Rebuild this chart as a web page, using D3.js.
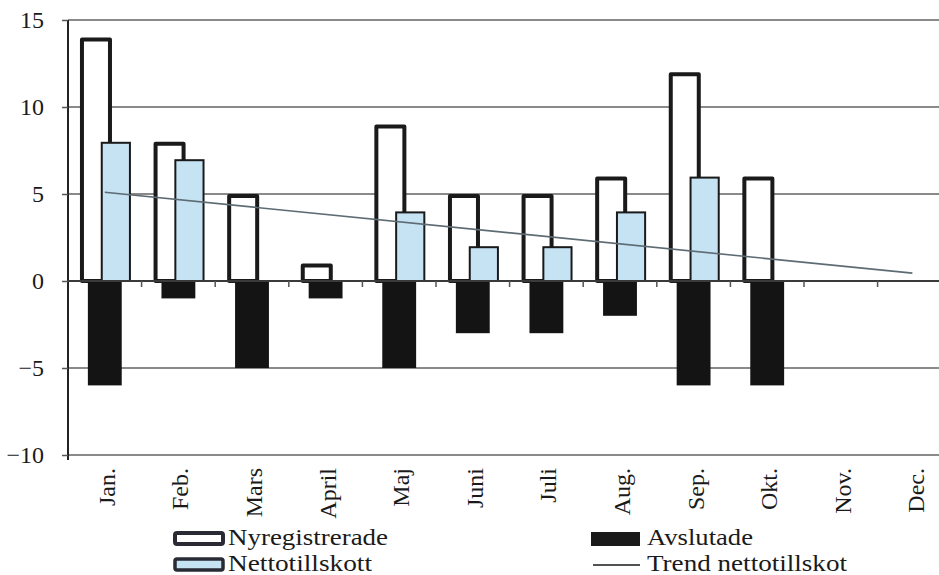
<!DOCTYPE html>
<html><head><meta charset="utf-8">
<script src="https://cdn.jsdelivr.net/npm/d3@7"></script>
<style>body{margin:0;background:#fff}svg{display:block}text{font-family:"Liberation Serif",serif;fill:#1a1a1a}</style>
</head><body>
<svg id="c" width="939" height="575" font-family="Liberation Serif"></svg>
<script>
const months = ["Jan.","Feb.","Mars","April","Maj","Juni","Juli","Aug.","Sep.","Okt.","Nov.","Dec."];
const nyregistrerade = [14,8,5,1,9,5,5,6,12,6,null,null];
const avslutade = [-6,-1,-5,-1,-5,-3,-3,-2,-6,-6,null,null];
const nettotillskott = [8,7,0,0,4,2,2,4,6,0,null,null];
const trendStart = 5.1, trendEnd = 0.45; // trend nettotillskot, Jan -> Dec
const yTicks = [-10,-5,0,5,10,15];
const legendLabels = ["Nyregistrerade","Nettotillskott","Avslutade","Trend nettotillskot"];

const FONT = "Liberation Serif";
const svg = d3.select("#c");
const x = d3.scaleBand().domain(months).range([68, 68 + 12*73.6]).padding(0);
const y = d3.scaleLinear().domain([-10,15]).range([455,20]);
const bw = x.bandwidth();
const cx = m => x(m) + bw/2;

// gridlines
svg.append("g").selectAll("line").data(yTicks.filter(t=>t!==0)).join("line")
  .attr("x1",68).attr("x2",939).attr("y1",d=>y(d)).attr("y2",d=>y(d))
  .attr("stroke","#8a8a8a").attr("stroke-width",2);

// y axis
const ya = d3.axisLeft(y).tickValues(yTicks).tickSize(6).tickPadding(18).tickFormat(d3.format("d"));
const yg = svg.append("g").attr("transform","translate(68,0)").call(ya);
yg.attr("font-family",FONT).attr("font-size",24);
yg.select(".domain").attr("stroke","#222").attr("stroke-width",2).attr("d","M0,20V460");
yg.selectAll(".tick line").attr("stroke","#555").attr("stroke-width",1.5);
yg.selectAll(".tick text").attr("font-family",FONT).attr("font-size",24).attr("fill","#1a1a1a");

// Nyregistrerade
const nyData = months.map((m,i)=>({m,v:nyregistrerade[i]})).filter(d=>d.v!=null);
svg.append("g").selectAll("rect").data(nyData).join("rect")
  .attr("x",d=>cx(d.m)-0.12*bw-0.2175*bw+2).attr("width",0.435*bw-4)
  .attr("y",d=>y(d.v)+2).attr("height",d=>y(0)-y(d.v)-2)
  .attr("fill","#fff").attr("stroke","#1a1a1a").attr("stroke-width",4).attr("stroke-linejoin","round");

// Avslutade
const avData = months.map((m,i)=>({m,v:avslutade[i]})).filter(d=>d.v!=null);
svg.append("g").selectAll("rect").data(avData).join("rect")
  .attr("x",d=>cx(d.m)-0.23*bw).attr("width",0.46*bw)
  .attr("y",y(0)).attr("height",d=>y(d.v)-y(0))
  .attr("fill","#141414");

// Nettotillskott
const neData = months.map((m,i)=>({m,v:nettotillskott[i]})).filter(d=>d.v!=null && d.v>0);
svg.append("g").selectAll("rect").data(neData).join("rect")
  .attr("x",d=>cx(d.m)+0.15*bw-0.205*bw+1).attr("width",0.41*bw-2)
  .attr("y",d=>y(d.v)+1).attr("height",d=>y(0)-y(d.v)-1)
  .attr("fill","#c6e3f4").attr("stroke","#1a1a1a").attr("stroke-width",2);

// zero axis with category ticks
svg.append("line").attr("x1",68).attr("x2",939).attr("y1",y(0)).attr("y2",y(0))
  .attr("stroke","#3a3a3a").attr("stroke-width",2);
svg.append("g").selectAll("line").data(months.slice(1)).join("line")
  .attr("x1",d=>x(d)).attr("x2",d=>x(d)).attr("y1",y(0)).attr("y2",y(0)+6)
  .attr("stroke","#555").attr("stroke-width",1.5);

// trend line
svg.append("line").attr("x1",cx(months[0])).attr("x2",cx(months[11])-2)
  .attr("y1",y(trendStart)).attr("y2",y(trendEnd))
  .attr("stroke","#5d6b73").attr("stroke-width",1.6);

// x labels
svg.append("g").selectAll("text").data(months).join("text")
  .attr("transform",d=>`translate(${cx(d)+2},468) rotate(-90)`)
  .attr("text-anchor","end").attr("dominant-baseline","central")
  .attr("font-family",FONT).attr("font-size",24).text(d=>d);

// legend
const lg = svg.append("g").attr("font-family",FONT);
lg.append("rect").attr("x",175).attr("y",533).attr("width",48).attr("height",11)
  .attr("fill","#fff").attr("stroke","#2a2a35").attr("stroke-width",4).attr("rx",2);
lg.append("text").attr("x",228).attr("y",545).attr("font-size",24)
  .attr("textLength",160).attr("lengthAdjust","spacingAndGlyphs").text(legendLabels[0]);
lg.append("rect").attr("x",175).attr("y",559).attr("width",48).attr("height",11)
  .attr("fill","#c6e3f4").attr("stroke","#2a2a35").attr("stroke-width",3.5).attr("rx",2);
lg.append("text").attr("x",228).attr("y",571).attr("font-size",24)
  .attr("textLength",144).attr("lengthAdjust","spacingAndGlyphs").text(legendLabels[1]);
lg.append("rect").attr("x",591).attr("y",532).attr("width",49).attr("height",14).attr("fill","#1a1a1a");
lg.append("text").attr("x",647).attr("y",545).attr("font-size",24)
  .attr("textLength",106).attr("lengthAdjust","spacingAndGlyphs").text(legendLabels[2]);
lg.append("line").attr("x1",593).attr("x2",640).attr("y1",565).attr("y2",565).attr("stroke","#1a1a1a").attr("stroke-width",1.5);
lg.append("text").attr("x",647).attr("y",571).attr("font-size",24)
  .attr("textLength",200).attr("lengthAdjust","spacingAndGlyphs").text(legendLabels[3]);
</script>
</body></html>
